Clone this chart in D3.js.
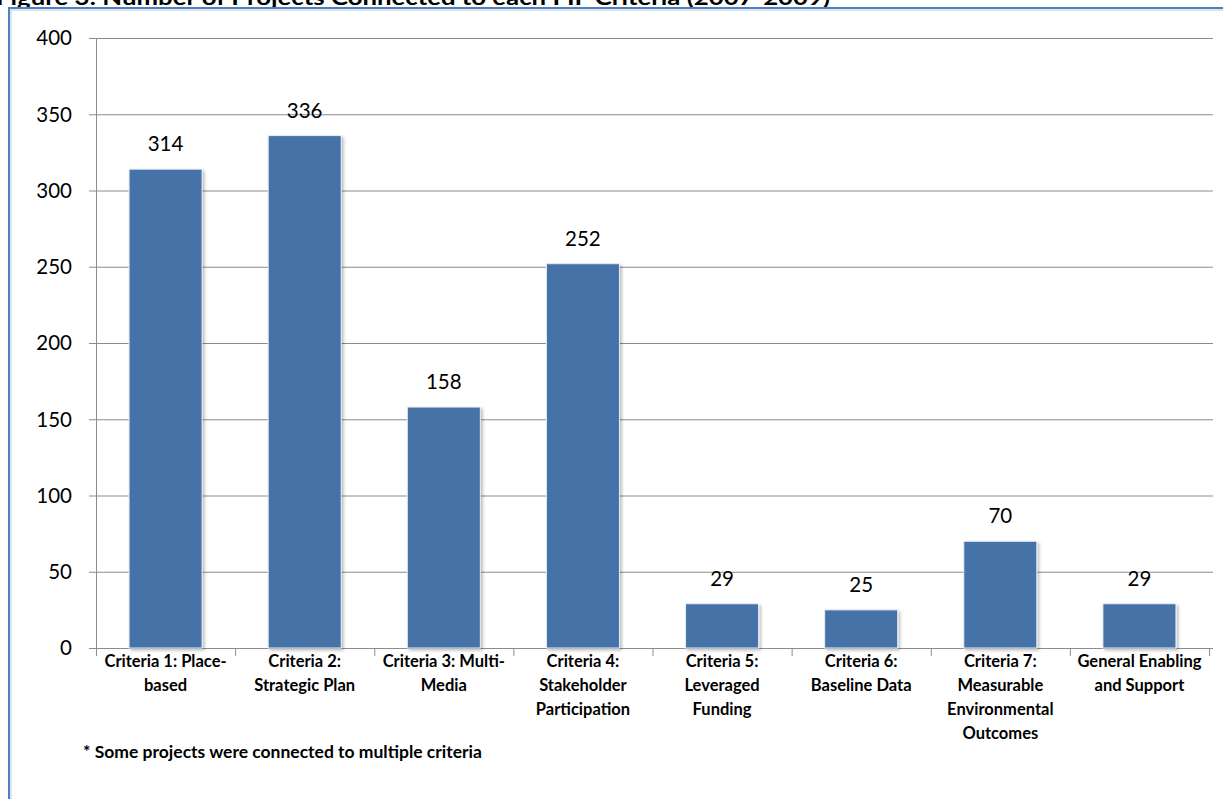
<html><head>
<script src="https://d3js.org/d3.v7.min.js"></script>
<style>
  body { margin: 0; background: #fff; overflow: hidden; }
  text { font-family: Lato, sans-serif; }
</style>
</head>
<body>
<svg id="chart" width="1223" height="799"></svg>
<script>
  // data
  const categories = [
    ["Criteria 1: Place-", "based"],
    ["Criteria 2:", "Strategic Plan"],
    ["Criteria 3: Multi-", "Media"],
    ["Criteria 4:", "Stakeholder", "Participation"],
    ["Criteria 5:", "Leveraged", "Funding"],
    ["Criteria 6:", "Baseline Data"],
    ["Criteria 7:", "Measurable", "Environmental", "Outcomes"],
    ["General Enabling", "and Support"]
  ];
  const projects = [314, 336, 158, 252, 29, 25, 70, 29];
  const yTicks = [0, 50, 100, 150, 200, 250, 300, 350, 400];
  const title = "Figure 3: Number of Projects Connected to each FIF Criteria (2007-2009)";
  const footnote = "* Some projects were connected to multiple criteria";

  let svg = d3.select("svg#chart");
  let x0 = 96, x1 = 1209, yTop = 38, yBot = 648;

  let defs = svg.append("defs");
  let f = defs.append("filter").attr("id", "shadow")
      .attr("x", "-10%").attr("y", "-10%").attr("width", "125%").attr("height", "125%");
  f.append("feDropShadow").attr("dx", 2).attr("dy", 2).attr("stdDeviation", 1.5)
      .attr("flood-color", "#000").attr("flood-opacity", 0.25);

  // title, cut off by the top edge like in the source picture
  svg.append("text")
      .attr("x", -4).attr("y", 5)
      .attr("textLength", 834).attr("lengthAdjust", "spacingAndGlyphs")
      .style("font-weight", "bold").style("font-size", "21px")
      .attr("fill", "#000")
      .text(title);

  // chart frame
  svg.append("rect")
      .attr("x", 9).attr("y", 8).attr("width", 1240).attr("height", 820)
      .attr("fill", "#fff").attr("stroke", "#4f81bd").attr("stroke-width", 2);
  svg.append("rect")
      .attr("x", 11).attr("y", 10).attr("width", 1240).attr("height", 820)
      .attr("fill", "none").attr("stroke", "#b9cde5").attr("stroke-width", 1);

  let x = d3.scaleBand().domain(d3.range(categories.length))
      .range([x0, x1]).paddingInner(0.475).paddingOuter(0.2375);
  let y = d3.scaleLinear().domain([0, 400]).range([yBot, yTop]);

  // gridlines
  svg.append("g")
      .selectAll("line").data(yTicks).join("line")
      .attr("x1", 89).attr("x2", 1213)
      .attr("y1", d => y(d) + 0.5).attr("y2", d => y(d) + 0.5)
      .attr("stroke", "#8c8c8c").attr("stroke-width", 1);

  // y axis line
  svg.append("line")
      .attr("x1", x0 + 0.5).attr("x2", x0 + 0.5)
      .attr("y1", yTop).attr("y2", yBot)
      .attr("stroke", "#8c8c8c");

  // y tick labels
  svg.append("g")
      .selectAll("text").data(yTicks).join("text")
      .attr("x", 72).attr("y", d => y(d))
      .attr("dy", "0.36em")
      .attr("text-anchor", "end")
      .style("font-size", "20.5px").attr("fill", "#000")
      .text(d => d);

  // x category tick marks
  let step = x.step();
  svg.append("g")
      .selectAll("line").data(d3.range(categories.length + 1)).join("line")
      .attr("x1", i => x0 + i * step + 0.5).attr("x2", i => x0 + i * step + 0.5)
      .attr("y1", yBot).attr("y2", yBot + 8)
      .attr("stroke", "#8c8c8c");

  // bars
  svg.append("g")
      .selectAll("rect").data(projects).join("rect")
      .attr("x", (d, i) => x(i))
      .attr("y", d => y(d))
      .attr("width", x.bandwidth())
      .attr("height", d => yBot - y(d))
      .attr("fill", "#4572a7")
      .attr("stroke", "#e8eef6").attr("stroke-width", 1)
      .attr("filter", "url(#shadow)");

  // value labels
  svg.append("g")
      .selectAll("text").data(projects).join("text")
      .attr("x", (d, i) => x(i) + x.bandwidth() / 2)
      .attr("y", d => y(d) - 18)
      .attr("text-anchor", "middle")
      .style("font-size", "20.5px").attr("fill", "#000")
      .text(d => d);

  // category labels
  let catG = svg.append("g");
  categories.forEach((lines, i) => {
    let cx = x(i) + x.bandwidth() / 2;
    let t = catG.append("text")
        .attr("text-anchor", "middle")
        .style("font-weight", "bold").style("font-size", "16.5px")
        .attr("fill", "#000");
    lines.forEach((s, j) => {
      t.append("tspan")
          .attr("x", cx)
          .attr("y", 667 + j * 24)
          .text(s);
    });
  });

  // footnote
  svg.append("text")
      .attr("x", 83).attr("y", 758)
      .style("font-weight", "bold").style("font-size", "17.5px")
      .attr("fill", "#000")
      .text(footnote);
</script>
</body>
</html>
